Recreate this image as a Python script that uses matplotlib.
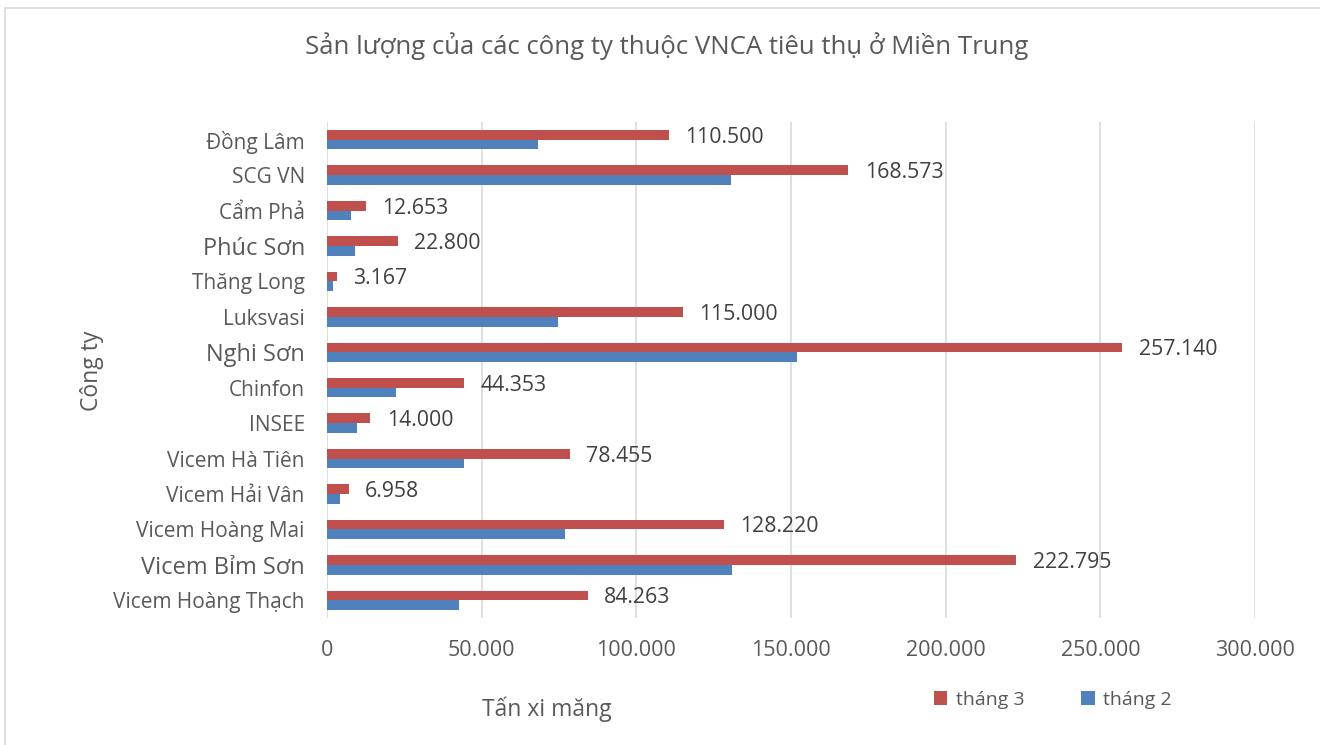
import matplotlib.pyplot as plt
from matplotlib.patches import Rectangle
from matplotlib.ticker import FuncFormatter

plt.rcParams['font.family'] = ['Open Sans', 'DejaVu Sans']

# bottom to top, as drawn on the chart
companies = ['Vicem Hoàng Thạch', 'Vicem Bỉm Sơn', 'Vicem Hoàng Mai', 'Vicem Hải Vân',
             'Vicem Hà Tiên', 'INSEE', 'Chinfon', 'Nghi Sơn', 'Luksvasi', 'Thăng Long',
             'Phúc Sơn', 'Cẩm Phả', 'SCG VN', 'Đồng Lâm']
thang3 = [84263, 222795, 128220, 6958, 78455, 14000, 44353, 257140, 115000, 3167,
          22800, 12653, 168573, 110500]
thang2 = [42600, 131000, 77000, 4200, 44200, 9600, 22400, 152000, 74800, 2000,
          9000, 7800, 130700, 68300]
x_ticks = [0, 50000, 100000, 150000, 200000, 250000, 300000]
big_labels = ['Phúc Sơn', 'Nghi Sơn', 'Vicem Bỉm Sơn']

red = '#C0504D'
blue = '#4F81BD'
grey = '#595959'

fig = plt.figure(figsize=(13.2, 7.45), dpi=100)
ax = fig.add_axes([327 / 1320, 1 - 618 / 745, (1255 - 327) / 1320, (618 - 122) / 745])

y = list(range(len(companies)))
h = 0.275
ax.barh([i + h / 2 for i in y], thang3, height=h, color=red, label='tháng 3')
ax.barh([i - h / 2 for i in y], thang2, height=h, color=blue, label='tháng 2')

for i, v in enumerate(thang3):
    ax.text(v + 5300, i + 0.07, f'{v:,}'.replace(',', '.'), va='center', ha='left',
            fontsize=15.3, color='#404040')

ax.set_xlim(0, 300000)
ax.set_ylim(-0.5, len(companies) - 0.5)
ax.set_xticks(x_ticks)
ax.xaxis.set_major_formatter(FuncFormatter(lambda v, p: f'{int(v):,}'.replace(',', '.')))
ax.set_yticks(y)
ax.set_yticklabels(companies)
for lab in ax.get_yticklabels():
    lab.set_fontsize(17 if lab.get_text() in big_labels else 15)
    lab.set_color(grey)
ax.tick_params(axis='x', labelsize=15.5, colors=grey, length=0, pad=16)
ax.tick_params(axis='y', length=0, pad=16)
ax.grid(axis='x', color='#D9D9D9', linewidth=1.2)
ax.set_axisbelow(True)
for s in ax.spines.values():
    s.set_visible(False)

fig.text(667 / 1320, 1 - 46 / 745, 'Sản lượng của các công ty thuộc VNCA tiêu thụ ở Miền Trung',
         ha='center', va='center', fontsize=18.5, color=grey)
fig.text(547 / 1320, 1 - 709 / 745, 'Tấn xi măng', ha='center', va='center', fontsize=16.5, color=grey)
fig.text(92 / 1320, 1 - 371 / 745, 'Công ty', ha='center', va='center', rotation=90,
         fontsize=16.5, color=grey)

fig.legend(loc='center', bbox_to_anchor=(1053 / 1320, 1 - 700 / 745), ncol=2, frameon=False,
           fontsize=14, labelcolor=grey, handlelength=0.7, handleheight=0.7,
           columnspacing=2.9, handletextpad=0.45)

fig.patches.append(Rectangle((5 / 1320, -0.01), 1.05, 1 - 8 / 745 + 0.01, transform=fig.transFigure,
                             fill=False, edgecolor='#D9D9D9', linewidth=1.2))

fig.savefig('out.png', dpi=100)
